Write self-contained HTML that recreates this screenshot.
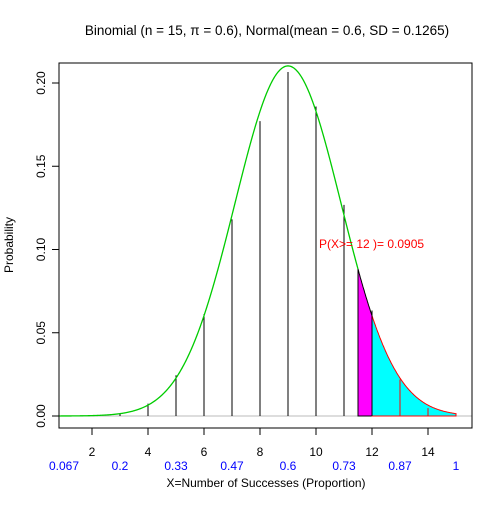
<!DOCTYPE html>
<html><head><meta charset="utf-8"><style>
body{margin:0;background:#fff}
text{font-family:"Liberation Sans",Arial,sans-serif}
</style></head><body>
<svg id="c" width="504" height="504" xmlns="http://www.w3.org/2000/svg"></svg>
<script>
const xs=[0,1,2,3,4,5,6,7,8,9,10,11,12,13,14,15];
const pmf=[0.000001,0.000024,0.00025,0.0016,0.0074,0.0245,0.0612,0.1181,0.1771,0.2066,0.1859,0.1268,0.0634,0.0219,0.0047,0.0005];
const xTicks=[2,4,6,8,10,12,14];
const propTicks=[1,3,5,7,9,11,13,15];
const propLabels=["0.067","0.2","0.33","0.47","0.6","0.73","0.87","1"];
const yTicks=[0,0.05,0.10,0.15,0.20];
const yLabels=["0.00","0.05","0.10","0.15","0.20"];
const mean=0.6, sd=0.1265, n=15, cutoff=12;
const probLabel="P(X>= 12 )= 0.0905";

const svg=document.getElementById('c');
const NS="http://www.w3.org/2000/svg";
const X=v=>36+v*28, Y=v=>416-v*1665;
function el(t,a,p){const e=document.createElementNS(NS,t);for(const k in a)e.setAttribute(k,a[k]);(p||svg).appendChild(e);return e;}
const mu=n*mean, s=n*sd;
const dens=x=>Math.exp(-0.5*((x-mu)/s)**2)/(Math.sqrt(2*Math.PI)*s);
function curvePts(a,b){const p=[];for(let x=a;x<=b+1e-9;x+=0.02)p.push([X(x),Y(dens(x))]);return p;}

let e=el('line',{x1:X(0.82),x2:472,y1:Y(0),y2:Y(0),stroke:'#bbb','stroke-width':1});

function area(a,b,fill,stroke,name){const p=curvePts(a,b);let d=`M${X(a)},${Y(0)} `+p.map(q=>'L'+q[0].toFixed(1)+','+q[1].toFixed(1)).join(' ')+` L${X(b)},${Y(0)} Z`;
 const g=el('path',{d:d,fill:fill,stroke:stroke,'stroke-width':1});}
area(cutoff-0.5,cutoff,'#ff00ff','#000','continuity-area');
area(cutoff,15,'#00ffff','#ff0000','tail-area');
xs.forEach((x,i)=>{const l=el('line',{x1:X(x),x2:X(x),y1:Y(0),y2:Y(pmf[i]),stroke:x>cutoff?'#ff0000':'#000','stroke-width':1});
 });
const cp=curvePts(0.82,cutoff-0.5);
e=el('polyline',{points:cp.map(q=>q.join(',')).join(' '),fill:'none',stroke:'#00cc00','stroke-width':1.3});

e=el('rect',{x:59,y:63,width:413,height:365,fill:'none',stroke:'#000','stroke-width':1});

xTicks.forEach(v=>{let t=el('line',{x1:X(v),x2:X(v),y1:428,y2:435,stroke:'#000'});
 t=el('text',{x:X(v),y:456,'text-anchor':'middle','font-size':12});t.textContent=v;});
propTicks.forEach((v,i)=>{const t=el('text',{x:X(v),y:470,'text-anchor':'middle','font-size':12,fill:'#0000ff'});t.textContent=propLabels[i];
 });
yTicks.forEach((v,i)=>{let t=el('line',{x1:52,x2:59,y1:Y(v),y2:Y(v),stroke:'#000'});
 t=el('text',{x:45,y:Y(v),'text-anchor':'middle','font-size':12,transform:`rotate(-90 45 ${Y(v)})`});t.textContent=yLabels[i];
 });
e=el('text',{x:266,y:487,'text-anchor':'middle','font-size':12});e.textContent='X=Number of Successes (Proportion)';

e=el('text',{x:13,y:245,'text-anchor':'middle','font-size':12,transform:'rotate(-90 13 245)'});e.textContent='Probability';

e=el('text',{x:267,y:35,'text-anchor':'middle','font-size':13.5});e.textContent='Binomial (n = 15, \u03c0 = 0.6), Normal(mean = 0.6,  SD = 0.1265)';

e=el('text',{x:319,y:248,'font-size':12,fill:'#ff0000'});e.textContent=probLabel;

</script>
</body></html>
